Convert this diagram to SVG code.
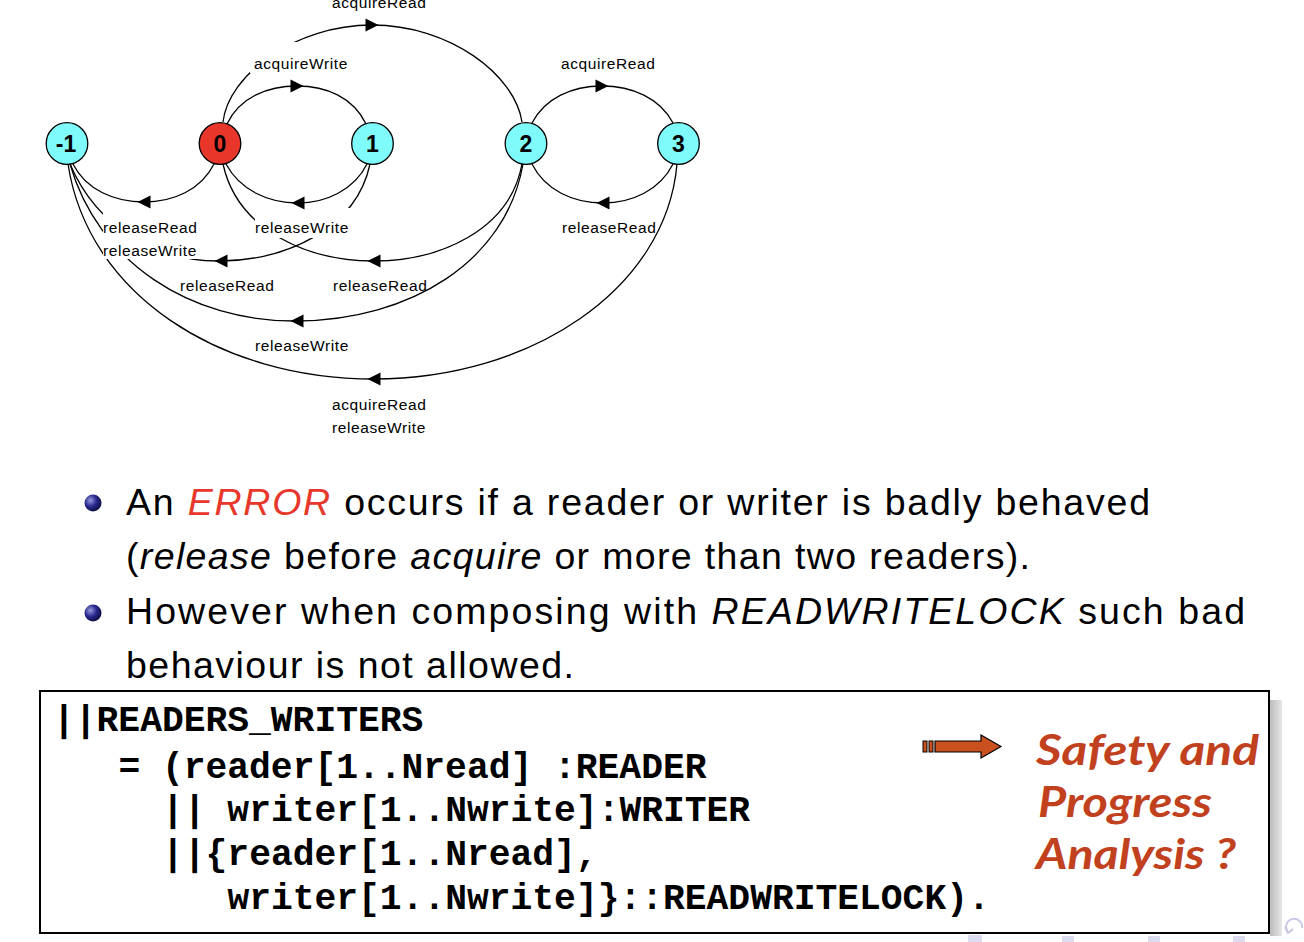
<svg xmlns="http://www.w3.org/2000/svg" xmlns:xlink="http://www.w3.org/1999/xlink" width="1304" height="942" viewBox="0 0 1304 942">
  <style>
    .edge { fill: none; stroke: #000; stroke-width: 1.3; }
    .lbl { font-family: "Liberation Sans", Arial, sans-serif; font-size: 15.5px; letter-spacing: 0.6px; fill: #000; }
    .lblbg { fill: #fff; }
    .node { stroke: #000; stroke-width: 1.3; }
    .cyan { fill: #7ffbfb; }
    .red { fill: #e8362b; }
    .nlabel { font-family: "Liberation Sans", Arial, sans-serif; font-size: 23px; font-weight: bold; text-anchor: middle; fill: #000; }
    .body { font-family: "Liberation Sans", Arial, sans-serif; font-size: 37.5px; fill: #000; }
    .it { font-style: italic; }
    .code { font-family: "Liberation Mono", "Courier New", monospace; font-size: 36.3px; font-weight: bold; fill: #000; }
    .safety { font-family: Lato, "Liberation Sans", sans-serif; font-size: 42px; font-weight: bold; font-style: italic; fill: #c1401d; }
    .nav { fill: #dcdcf0; }
  </style>
  <defs>
    <path id="ah" d="M-6.5,-6.5 L6.5,0 L-6.5,6.5 Z" fill="#000"/>
    <radialGradient id="ball" cx="0.35" cy="0.35" r="0.7">
      <stop offset="0" stop-color="#9a9ae0"/>
      <stop offset="0.5" stop-color="#2a2a90"/>
      <stop offset="1" stop-color="#0a0a40"/>
    </radialGradient>
    <linearGradient id="shadow" x1="0" y1="0" x2="1" y2="0">
      <stop offset="0" stop-color="#bdbdbd"/>
      <stop offset="1" stop-color="#e6e6e6"/>
    </linearGradient>
  </defs>

  <rect width="1304" height="942" fill="#fff"/>

  <g id="connectors">
    <!-- E1 0->1 acquireWrite -->
    <path class="edge" d="M 227,124 C 240,97 268,86 297,86 C 326,86 353,97 366,124"/>
    <!-- E2 0->2 acquireRead -->
    <path class="edge" d="M 223,122 C 228,75 295,25 372,25 C 450,25 515,75 522,122"/>
    <!-- E3 2->3 acquireRead -->
    <path class="edge" d="M 532,123 C 545,98 572,86 602,86 C 632,86 660,98 673,123"/>
    <!-- E4 3->2 releaseRead -->
    <path class="edge" d="M 673,164 C 660,190 632,203 603,203 C 573,203 545,190 532,164"/>
    <!-- E5 1->0 releaseWrite -->
    <path class="edge" d="M 367,164 C 354,190 326,203 298,203 C 268,203 240,190 226,164"/>
    <!-- E6 0->-1 releaseRead releaseWrite -->
    <path class="edge" d="M 214,164 C 201,190 173,202 144,202 C 115,202 86,190 73,164"/>
    <!-- E7 1->-1 releaseRead -->
    <path class="edge" d="M 370,164 C 356,230 285,260 221,261 C 160,262 98,230 70,164"/>
    <!-- E8 2->0 releaseRead -->
    <path class="edge" d="M 522,164 C 510,230 440,261 374,261 C 310,261 238,232 223,164"/>
    <!-- E9 2->-1 releaseWrite -->
    <path class="edge" d="M 523,164 C 506,262 410,320 297,321 C 190,322 98,262 70,164"/>
    <!-- E10 3->-1 acquireRead releaseWrite -->
    <path class="edge" d="M 677,164 C 666,290 530,379 374,379 C 220,379 88,295 68,164"/>

    <!-- label backgrounds that hide lines -->
    <rect class="lblbg" x="250" y="42" width="102" height="31"/>
    <rect class="lblbg" x="255" y="208" width="96" height="30"/>
    <rect class="lblbg" x="103" y="210" width="98" height="49"/>

    <!-- arrowheads -->
    <use xlink:href="#ah" transform="translate(297,86)"/>
    <use xlink:href="#ah" transform="translate(372,25)"/>
    <use xlink:href="#ah" transform="translate(602,86)"/>
    <use xlink:href="#ah" transform="translate(603,203) rotate(180)"/>
    <use xlink:href="#ah" transform="translate(298,203) rotate(180)"/>
    <use xlink:href="#ah" transform="translate(144,202) rotate(180)"/>
    <use xlink:href="#ah" transform="translate(221,261) rotate(180)"/>
    <use xlink:href="#ah" transform="translate(374,261) rotate(180)"/>
    <use xlink:href="#ah" transform="translate(297,321) rotate(180)"/>
    <use xlink:href="#ah" transform="translate(374,379) rotate(180)"/>

    <!-- edge labels -->
    <text class="lbl" x="332" y="8">acquireRead</text>
    <text class="lbl" x="254" y="69">acquireWrite</text>
    <text class="lbl" x="561" y="69">acquireRead</text>
    <text class="lbl" x="103" y="233">releaseRead</text>
    <text class="lbl" x="103" y="256">releaseWrite</text>
    <text class="lbl" x="255" y="233">releaseWrite</text>
    <text class="lbl" x="562" y="233">releaseRead</text>
    <text class="lbl" x="180" y="291">releaseRead</text>
    <text class="lbl" x="333" y="291">releaseRead</text>
    <text class="lbl" x="255" y="351">releaseWrite</text>
    <text class="lbl" x="332" y="410">acquireRead</text>
    <text class="lbl" x="332" y="433">releaseWrite</text>
  </g>

  <g id="node-m1">
    <circle class="node cyan" cx="67" cy="143.5" r="20.8"/>
    <text class="nlabel" x="66" y="152">-1</text>
  </g>
  <g id="node-0">
    <circle class="node red" cx="220" cy="143.5" r="20.8"/>
    <text class="nlabel" x="220" y="152">0</text>
  </g>
  <g id="node-1">
    <circle class="node cyan" cx="372.5" cy="143.5" r="20.8"/>
    <text class="nlabel" x="372.5" y="152">1</text>
  </g>
  <g id="node-2">
    <circle class="node cyan" cx="526" cy="143.5" r="20.8"/>
    <text class="nlabel" x="526" y="152">2</text>
  </g>
  <g id="node-3">
    <circle class="node cyan" cx="678.5" cy="143.5" r="20.8"/>
    <text class="nlabel" x="678.5" y="152">3</text>
  </g>

  <g id="bullets">
    <circle cx="93" cy="503" r="8.5" fill="url(#ball)"/>
    <circle cx="93" cy="613" r="8.5" fill="url(#ball)"/>
    <text class="body" x="126" y="515" textLength="1024" lengthAdjust="spacing">An <tspan class="it" fill="#e8372b">ERROR</tspan> occurs if a reader or writer is badly behaved</text>
    <text class="body" x="126" y="569" textLength="904" lengthAdjust="spacing">(<tspan class="it">release</tspan> before <tspan class="it">acquire</tspan> or more than two readers).</text>
    <text class="body" x="126" y="624" textLength="1119" lengthAdjust="spacing">However when composing with <tspan class="it">READWRITELOCK</tspan> such bad</text>
    <text class="body" x="126" y="678" textLength="448" lengthAdjust="spacing">behaviour is not allowed.</text>
  </g>

  <g id="codebox">
    <rect x="1270" y="700" width="12" height="236" fill="url(#shadow)"/>
    <rect x="40" y="691" width="1229" height="242" fill="#fff" stroke="#000" stroke-width="2"/>
    <text class="code" x="53" y="731">||READERS_WRITERS</text>
    <text class="code" x="118.4" y="778">= (reader[1..Nread] :READER</text>
    <text class="code" x="162" y="821">|| writer[1..Nwrite]:WRITER</text>
    <text class="code" x="162" y="865">||{reader[1..Nread],</text>
    <text class="code" x="227.4" y="909">writer[1..Nwrite]}::READWRITELOCK).</text>
  </g>

  <g id="safety-arrow">
    <rect x="923" y="741" width="4" height="11" fill="#c9501f" stroke="#000" stroke-width="1"/>
    <rect x="929" y="741" width="4" height="11" fill="#c9501f" stroke="#000" stroke-width="1"/>
    <path d="M 935,741 L 981,741 L 981,735 L 1001,746.5 L 981,758 L 981,752 L 935,752 Z" fill="#c9501f" stroke="#000" stroke-width="1.2"/>
  </g>

  <g id="safety-text">
    <text class="safety" x="1036" y="765" textLength="223" lengthAdjust="spacingAndGlyphs">Safety and</text>
    <text class="safety" x="1038" y="817" textLength="174" lengthAdjust="spacingAndGlyphs">Progress</text>
    <text class="safety" x="1036" y="869" textLength="200" lengthAdjust="spacingAndGlyphs">Analysis ?</text>
  </g>

  <g id="nav">
    <rect class="nav" x="968" y="935" width="14" height="7"/>
    <rect class="nav" x="1062" y="936" width="12" height="6"/>
    <rect class="nav" x="1148" y="936" width="12" height="6"/>
    <rect class="nav" x="1233" y="936" width="12" height="6"/>
    <path d="M 1288,932 A 8,8 0 1 1 1302,928" fill="none" stroke="#c8c8e6" stroke-width="2"/>
    <path d="M 1285,927 L 1288,933 L 1293,929" fill="none" stroke="#c8c8e6" stroke-width="2"/>
  </g>
</svg>
